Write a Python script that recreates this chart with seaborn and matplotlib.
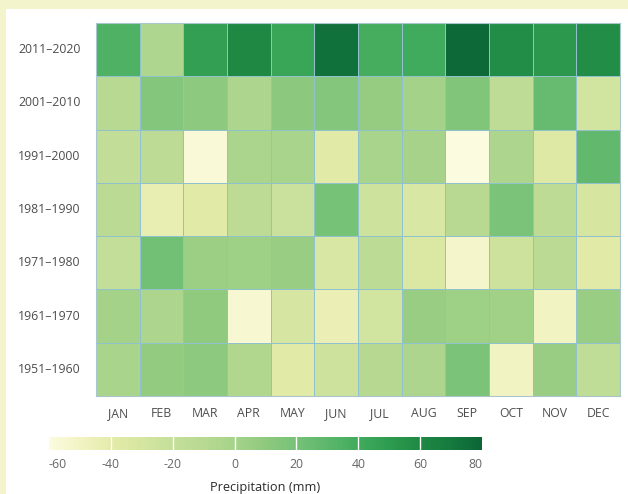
import numpy as np
import pandas as pd
import matplotlib
matplotlib.use("Agg")
import matplotlib.pyplot as plt
from matplotlib.colors import LinearSegmentedColormap
from matplotlib.patches import Rectangle
import seaborn as sns

months = ["JAN", "FEB", "MAR", "APR", "MAY", "JUN",
          "JUL", "AUG", "SEP", "OCT", "NOV", "DEC"]
decades = ["2011–2020", "2001–2010", "1991–2000", "1981–1990",
           "1971–1980", "1961–1970", "1951–1960"]

# precipitation anomaly per month (mm), one list per decade
p_2011_2020 = [35, -5, 48, 60, 44, 74, 38, 40, 78, 58, 52, 58]
p_2001_2010 = [-10, 14, 10, -4, 11, 14, 7, 1, 16, -15, 26, -28]
p_1991_2000 = [-17, -14, -57, -3, -2, -38, -2, 0, -62, -4, -36, 28]
p_1981_1990 = [-12, -43, -38, -14, -23, 20, -25, -32, -10, 18, -14, -30]
p_1971_1980 = [-18, 22, 4, 3, 6, -32, -13, -33, -52, -25, -12, -38]
p_1961_1970 = [1, -4, 9, -55, -31, -45, -28, 6, 3, 2, -50, 6]
p_1951_1960 = [-2, 8, 10, -6, -38, -25, -9, -4, 18, -50, 6, -16]

cbar_ticks = [-60, -40, -20, 0, 20, 40, 60, 80]

df = pd.DataFrame(
    [p_2011_2020, p_2001_2010, p_1991_2000, p_1981_1990,
     p_1971_1980, p_1961_1970, p_1951_1960],
    index=decades, columns=months,
)

sns.set_theme(style="white")
plt.rcParams["font.family"] = ["Open Sans", "DejaVu Sans"]

# yellow-to-green scale
cmap = LinearSegmentedColormap.from_list(
    "precip",
    ["#fbfbe0", "#f2f3c3", "#e4eba9", "#d5e6a1", "#c4df99", "#b8d992",
     "#a6d389", "#8ec97e", "#76c277", "#5cb76b", "#41ab5d", "#2e9c50",
     "#1f8944", "#157a3e", "#0c6636"],
)

fig = plt.figure(figsize=(6.28, 4.94), dpi=100, facecolor="white")

# pale yellow frame strips along the top and left edges
fig.patches.append(Rectangle((0, 1 - 9 / 494), 1, 9 / 494, transform=fig.transFigure,
                             facecolor="#f3f3cc", edgecolor="none", zorder=0))
fig.patches.append(Rectangle((0, 0), 6 / 628, 1, transform=fig.transFigure,
                             facecolor="#f3f3cc", edgecolor="none", zorder=0))

ax = fig.add_axes([96 / 628, 1 - 396 / 494, 524 / 628, 373 / 494])
cax = fig.add_axes([49 / 628, 1 - 450 / 494, 433 / 628, 13 / 494])

sns.heatmap(
    df, ax=ax, cmap=cmap, vmin=-60, vmax=80,
    linewidths=0.55, linecolor="#8fc2cd",
    cbar_ax=cax, cbar_kws={"orientation": "horizontal", "ticks": cbar_ticks},
)

ax.tick_params(axis="both", length=0, colors="#4d4d4d", labelsize=8.8)
ax.tick_params(axis="y", pad=11, rotation=0)
ax.tick_params(axis="x", pad=8, rotation=0)
for s in ax.spines.values():
    s.set_visible(True)
    s.set_color("#a9c6cc")
    s.set_linewidth(0.8)

cbar = ax.collections[0].colorbar
cbar.outline.set_visible(False)
cax.tick_params(length=0, pad=6, labelsize=8.8, colors="#666666")
cax.set_xticks(cbar_ticks)
labels = cax.set_xticklabels([str(t) for t in cbar_ticks])
labels[0].set_ha("left")
labels[-1].set_ha("right")
for t in cbar_ticks[1:-1]:
    cax.axvline(t, color="white", lw=1.0)
cax.set_xlabel("Precipitation (mm)", fontsize=9.2, color="#2b2b2b", labelpad=7)

fig.savefig("out.png", dpi=100, facecolor="white")
